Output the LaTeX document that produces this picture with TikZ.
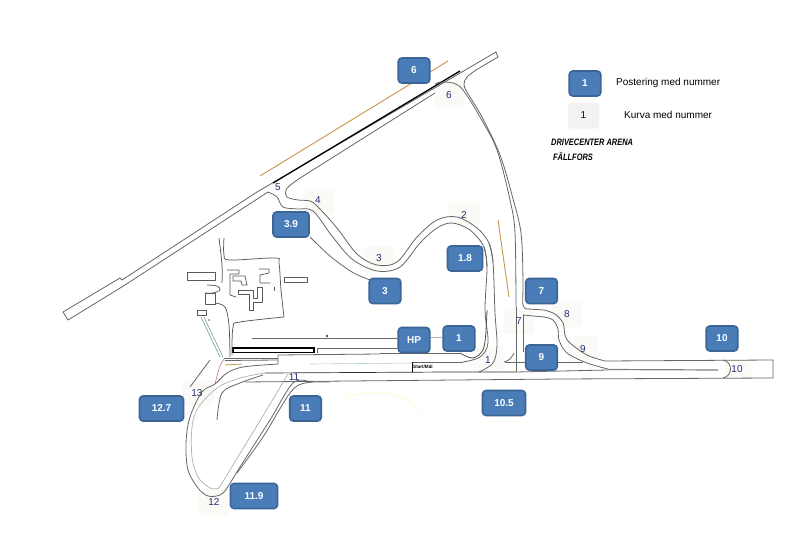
\documentclass[tikz,border=0pt]{standalone}
\usepackage{fontspec}
\setmainfont{Liberation Sans}
\newfontfamily\narrowfont[FakeStretch=0.8]{Liberation Sans}
\definecolor{boxfill}{HTML}{4A7DB8}
\definecolor{boxedge}{HTML}{3A6596}
\definecolor{patchc}{HTML}{FBFAF7}
\definecolor{navy}{HTML}{1F2F6E}
\definecolor{trackc}{HTML}{666666}
\definecolor{orangec}{HTML}{C8964A}
\tikzset{
  post/.style={draw=boxedge,line width=1.6pt,fill=boxfill,rounded corners=3.5pt,text=white,font=\fontsize{10}{11}\selectfont\bfseries,minimum height=25pt,minimum width=31.5pt,inner sep=0pt},
  kurva/.style={fill=patchc,rounded corners=3pt,text=navy,font=\fontsize{9}{10}\selectfont,minimum width=31pt,minimum height=26pt,inner sep=0pt},
  curvelabel/.style={text=navy,font=\fontsize{10}{11}\selectfont,inner sep=0pt},
  trk/.style={draw=trackc,line width=0.8pt,line join=round},
  lite/.style={draw=gray!60,line width=0.7pt,line join=round},
  bld/.style={draw=black!65,line width=0.75pt,line join=round},
  sm/.style={smooth,tension=0.55},
  orangeline/.style={draw=orangec,line width=0.9pt}
}
\begin{document}
\begin{tikzpicture}[x=1pt,y=-1pt]
\useasboundingbox[fill=white] (0,0) rectangle (807,538);

% faint patches behind the curve numbers
\node[kurva] (p6) at (449,95) {};
\node[kurva] (p4) at (319,201) {};
\node[kurva] (p2) at (464,214) {};
\node[kurva] (p3) at (379,259) {};
\node[kurva] (p7) at (519,321) {};
\node[kurva] (p8) at (567,314) {};
\node[kurva] (p9) at (583,349) {};
\node[kurva,minimum width=26pt,minimum height=18pt] (p10) at (738,369) {};
\node[kurva] (p1) at (488,359) {};
\node[kurva] (p13) at (198,393) {};
\node[kurva] (p12) at (214,503) {};

% faint curve south of the straight
\draw[yellow!20!white,line width=0.8pt] (345,398) .. controls (375,388) and (405,392) .. (422,412);

% runway
\draw[trk] (63,312) -- (120,278) -- (122,280) -- (257,192);
\draw[trk] (257,192) -- (496,52) -- (498,57) -- (476,70);
\draw[trk] (68,320) -- (63,312);
\draw[trk] (68,320) -- (125,285) -- (268,192);
\draw[black,line width=1.3pt] (273,183) -- (460,71);
\draw[orangeline] (260,176) -- (448,61);
\draw[orangeline] (498,220) -- (509,297);

% back straight to the right
\draw[trk] plot[sm] coordinates {(476,70) (467,77) (464,84) (467,92) (482,117) (500,155) (512,195) (521,233) (523,280) (523,305) (528,309)};
\draw[trk] (528,309) -- (544,310);
\draw[trk] plot[sm] coordinates {(544,310) (555,314) (563,323) (565,335) (570,343) (587,355) (605,361)};
\draw[trk] plot[sm] coordinates {(440,82) (453,83) (463,90) (480,117) (497,150) (510,200) (515,233) (516,307)};
\draw[trk] (516,307) -- (516,372);
\draw[trk] (523,315) -- (544,317);
\draw[trk] plot[sm] coordinates {(544,317) (553,320) (558,329) (559,340) (567,353) (587,363) (608,369)};
\draw[trk] (523,315) -- (523,352);
\draw[trk] plot[sm] coordinates {(514,353) (510,359) (504,362)};

% corner 6 to 5 to 4
\draw[trk] (435,93) -- (308,173);
\draw[trk] (440,82) -- (435,84);
\draw[trk] plot[sm] coordinates {(308,173) (293,183) (286,190) (287,197) (298,200) (310,201) (318,207) (337,228) (357,254) (377,265) (397,262) (417,237) (437,220) (457,217) (477,228) (489,243) (493,262)};
\draw[trk] plot[sm] coordinates {(268,192) (277,197) (283,207) (297,209) (313,211) (332,236) (352,259) (377,271) (400,267) (420,243) (437,228) (452,223) (470,230) (484,247) (487,267)};
\draw[trk] plot[sm] coordinates {(489,243) (493,262) (495,313) (497,345) (493,363) (479,372)};
\draw[trk] plot[sm] coordinates {(484,247) (487,267) (485,310) (488,343) (480,357) (463,362)};
\draw[black!70,line width=0.8pt] plot[sm] coordinates {(487,310) (484,347) (473,358) (460,353)};
\draw[trk] (460,353) -- (380,353);

% line from 3.9 to 3
\draw[trk] plot[sm] coordinates {(310,237) (330,256) (352,272) (370,280)};

% straights
\draw[trk] (463,362) -- (412,362);
\draw[cyan!30!gray!50,line width=0.6pt] (310,364) -- (412,363);
\draw[trk] (558,362) -- (583,362);
\draw[trk] (505,362) -- (525,362);
\draw[trk] (605,361) -- (773,360) -- (773,378);
\draw[trk] (773,378) -- (560,379) -- (245,382);
\draw[black!80,line width=0.7pt] (265,373) -- (450,372) -- (516,372);
\draw[trk] (516,372) -- (608,370);
\draw[gray,line width=1.2pt] (608,369.5) -- (718,370);
\draw[trk] (723,360) .. controls (733,362) and (733,376) .. (723,378);
\draw[black,line width=0.7pt] (412,362) -- (412,372);

% pit area
\draw[black,line width=1.2pt] (233,348) rectangle (314,352.5);
\draw[trk] (252,338) -- (397,338);
\draw[lite] (431,337) -- (442,337);
\fill[black!70] (327,336) circle (1.3pt);
\draw[trk] (317,353) -- (317,348) -- (397,348);
\draw[trk] (278,364) -- (278,355) -- (380,354);
\draw[trk] (225,358) -- (278,358);
\draw[trk] (225,360.5) -- (278,360);
\draw[orangec,line width=0.8pt] (225,365) -- (242,364);
\draw[red!40!gray,line width=0.4pt] plot[sm] coordinates {(215,384) (220,366) (225,358)};
\draw[teal!60!gray,line width=0.4pt] (201,317) -- (220,357);
\draw[teal!40!gray,line width=0.4pt] (204,317) -- (223,357);

% loop at 12
\draw[lite] plot[sm] coordinates {(288,374) (258,424) (222,483) (218,488) (210,488) (198,477) (192,457) (192,427) (198,408) (217,388) (240,378) (265,373)};
\draw[trk] plot[sm] coordinates {(310,382) (293,383) (270,420) (240,467) (227,488) (220,495) (208,496) (198,488) (188,470) (186,443) (190,417) (202,392) (215,384) (227,373) (243,367) (278,364)};
\draw[trk] plot[sm] coordinates {(330,382) (305,383) (290,393) (263,437) (237,473)};
\draw[trk] plot[sm] coordinates {(217,420) (222,393) (240,383) (263,375)};
\draw[trk] (190,387) -- (210,360);

% roads and buildings
\draw[bld] plot[sm] coordinates {(219,238) (222,265) (222,283)};
\draw[bld] plot[sm] coordinates {(224,238) (224,255) (230,260) (275,258) (279,263) (281,290) (284,317)};
\draw[bld] plot[sm] coordinates {(284,317) (240,322) (233,327) (232,355)};
\draw[bld] plot[sm] coordinates {(207,285) (217,286) (220,290) (213,293) (205,293)};
\draw[bld] (205,293) rectangle (215,304);
\draw[bld] plot[sm] coordinates {(215,303) (225,307) (229,325) (230,357)};
\draw[bld] (187,272) rectangle (215,280);
\draw[bld] (284,277) rectangle (307,282);
\draw[bld] (197,310) rectangle (206,315);
\draw[bld] (227,270) -- (239,270) -- (239,274) -- (230,274) -- (230,295) -- (236,297);
\draw[bld] (233,276) -- (245,276) -- (247,285) -- (242,285) -- (241,281) -- (233,281) -- cycle;
\draw[bld] (238,290) -- (238,294) -- (249,294) -- (249,310) -- (253,310) -- (253,302) -- (262,302) -- (262,287) -- (257,287) -- (257,298) -- (253,298) -- (253,290) -- cycle;
\draw[bld] (259,269) -- (269,269) -- (269,273) -- (260,275) -- (260,283) -- (270,283);
\draw[bld] (274,287) -- (274,291);
\fill[black!60] (209,320) circle (0.8pt);

% curve numbers
\node[curvelabel] (k6) at (449,95) {6};
\node[curvelabel] (k5) at (278,187) {5};
\node[curvelabel] (k4) at (318,200) {4};
\node[curvelabel] (k2) at (464,215) {2};
\node[curvelabel] (k3) at (379,258) {3};
\node[curvelabel] (k7) at (519,321) {7};
\node[curvelabel] (k8) at (567,314) {8};
\node[curvelabel] (k9) at (583,349) {9};
\node[curvelabel] (k10) at (737,369) {10};
\node[curvelabel] (k1) at (488,360) {1};
\node[curvelabel] (k11) at (294,377) {11};
\node[curvelabel] (k13) at (197,393) {13};
\node[curvelabel] (k12) at (214,502) {12};

% posts
\node[post] (b6) at (414,70.5) {6};
\node[post,minimum width=36pt] (b39) at (291,224.5) {3.9};
\node[post] (b3) at (385,291) {3};
\node[post,minimum width=35pt] (b18) at (465,258.5) {1.8};
\node[post] (b7) at (541.5,291) {7};
\node[post] (bHP) at (414,340) {HP};
\node[post] (b1) at (459,338.5) {1};
\node[post] (b9) at (541.5,357.5) {9};
\node[post,minimum width=43pt] (b105) at (504,403) {10.5};
\node[post] (b10) at (722,338.5) {10};
\node[post] (b11) at (305.5,408.5) {11};
\node[post,minimum width=44pt] (b127) at (161.5,408.5) {12.7};
\node[post,minimum width=47pt] (b119) at (254,496) {11.9};

% start/finish
\node[anchor=west,inner sep=0pt,font=\fontsize{4.6}{5}\selectfont\bfseries] (start) at (413,367) {Start/Mål};

% legend
\node[post] (legA) at (585,83.5) {1};
\node[kurva,fill=black!3!patchc] (legB) at (583.5,115.5) {};
\node[curvelabel,text=black!80!navy] (legBt) at (583.5,115.5) {1};
\node[anchor=west,inner sep=0pt,font=\fontsize{10}{11}\selectfont] (legAt) at (616,82.5) {Postering med nummer};
\node[anchor=west,inner sep=0pt,font=\fontsize{10}{11}\selectfont] (legBl) at (624,114.5) {Kurva med nummer};
\node[anchor=west,inner sep=0pt,font=\narrowfont\fontsize{9.3}{10}\selectfont\bfseries\itshape] (title1) at (551,142.5) {DRIVECENTER ARENA};
\node[anchor=west,inner sep=0pt,font=\narrowfont\fontsize{9.3}{10}\selectfont\bfseries\itshape] (title2) at (553,156.5) {FÄLLFORS};
\end{tikzpicture}
\end{document}
